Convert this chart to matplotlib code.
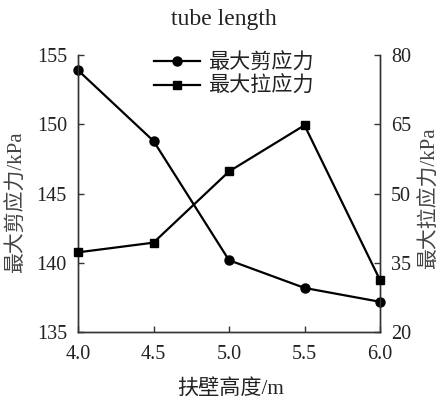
import matplotlib
matplotlib.use("Agg")
import matplotlib.pyplot as plt

plt.rcParams["font.family"] = ["Liberation Serif", "Noto Sans CJK SC"]
plt.rcParams["font.size"] = 14.5

# buttress height (m) vs. peak shear / tensile stress (kPa)
heights = [4.0, 4.5, 5.0, 5.5, 6.0]
max_shear = [153.9, 148.8, 140.2, 138.2, 137.2]
max_tensile = [37.3, 39.4, 54.8, 64.8, 31.3]

ink = "#222222"

fig = plt.figure(figsize=(4.41, 4.01), dpi=100)
ax = fig.add_axes([78 / 441, 1 - 332.3 / 401, 302 / 441, 277.3 / 401])
ax2 = ax.twinx()

l1, = ax.plot(heights, max_shear, color="black", lw=1.6, marker="o", ms=6.5,
              label="最大剪应力", clip_on=False, zorder=5)
l2, = ax2.plot(heights, max_tensile, color="black", lw=1.6, marker="s", ms=6,
               label="最大拉应力", clip_on=False, zorder=5)

ax.set_xlim(4.0, 6.0)
ax.set_ylim(135, 155)
ax2.set_ylim(20, 80)
ax.set_xticks(heights)
ax.set_xticklabels([f"{h:.1f}" for h in heights])
ax.set_yticks([135, 140, 145, 150, 155])
ax2.set_yticks([20, 35, 50, 65, 80])

for a in (ax, ax2):
    a.spines["top"].set_visible(False)
    for s in a.spines.values():
        s.set_color("#333333")
        s.set_linewidth(1.0)
    a.tick_params(direction="in", length=4, width=1.0, colors="#333333",
                  labelcolor=ink)
ax.tick_params(axis="y", pad=8)
ax.tick_params(axis="x", pad=9)
ax2.tick_params(axis="y", pad=8)

fig.text(224 / 441, 1 - 20 / 401, "tube length", ha="center", va="center",
         color=ink, fontsize=17)
fig.text(231 / 441, 1 - 389 / 401, "扶壁高度/m", ha="center", va="center",
         color=ink, fontsize=15.2)
fig.text(17 / 441, 1 - 202 / 401, "最大剪应力/kPa", rotation=90,
         ha="center", va="center", color="#444444", fontsize=15)
fig.text(430 / 441, 1 - 198 / 401, "最大拉应力/kPa", rotation=90,
         ha="center", va="center", color="#444444", fontsize=15)

ax.legend(handles=[l1, l2], loc="upper left", bbox_to_anchor=(0.25, 1.005),
          frameon=False, borderaxespad=0, borderpad=0, handlelength=2.2,
          handletextpad=0.4, labelspacing=0.15, labelcolor=ink,
          prop={"size": 15.2})

fig.savefig("out.png", dpi=100)
